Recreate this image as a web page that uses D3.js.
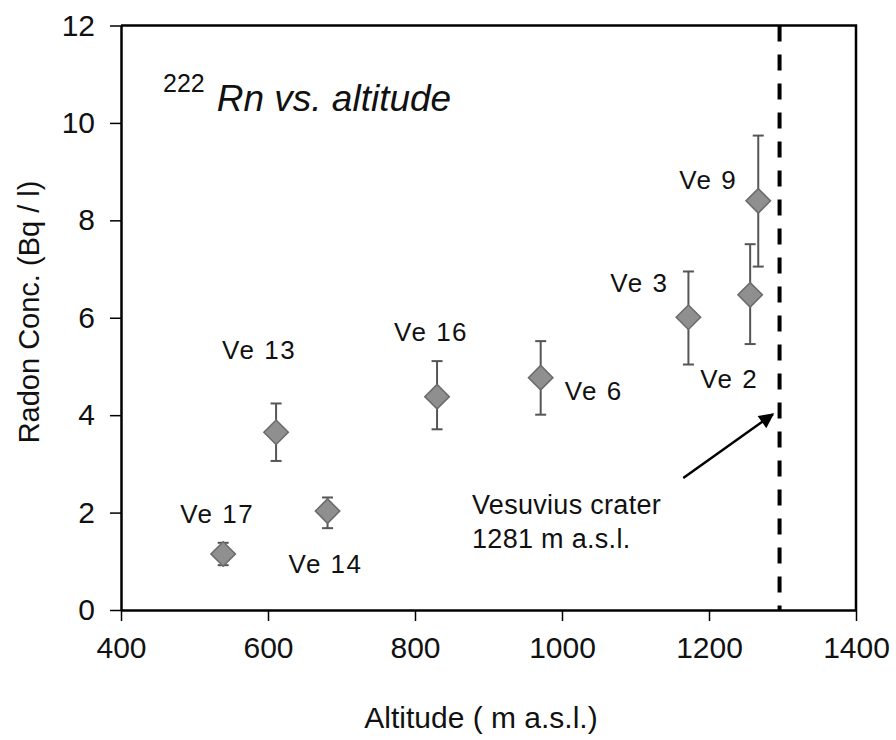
<!DOCTYPE html>
<html>
<head>
<meta charset="utf-8">
<script src="https://cdn.jsdelivr.net/npm/d3@7"></script>
<style>
  body { margin: 0; background: #fff; }
  svg text { font-family: "Liberation Sans", Arial, sans-serif; fill: #111; }
</style>
</head>
<body>
<div id="chart"></div>
<script>
// sample sites, altitude (m a.s.l.) and radon concentration (Bq/l)
const sites = ["Ve 17", "Ve 13", "Ve 14", "Ve 16", "Ve 6", "Ve 3", "Ve 2", "Ve 9"];
const altitude = [539, 611, 681, 830, 971, 1172, 1256, 1267];
const radon = [1.15, 3.65, 2.03, 4.38, 4.77, 6.01, 6.47, 8.40];
const errLow = [0.92, 3.06, 1.68, 3.71, 4.01, 5.04, 5.46, 7.05];
const errHigh = [1.38, 4.24, 2.31, 5.11, 5.52, 6.95, 7.51, 9.74];
const xTicks = [400, 600, 800, 1000, 1200, 1400];
const yTicks = [0, 2, 4, 6, 8, 10, 12];
const craterAlt = 1296;
const arrowFrom = [1165, 2.71];
const arrowTo = [1287, 4.02];

// label placement relative to each marker (px)
const labelShift = {
  "Ve 17": [-43, -31, "start"], "Ve 13": [-54, -73, "start"], "Ve 14": [-39, 62, "start"],
  "Ve 16": [-43, -56, "start"], "Ve 6": [24, 22, "start"], "Ve 3": [-20, -25, "end"],
  "Ve 2": [-50, 93, "start"], "Ve 9": [-21, -12, "end"]
};

const width = 896, height = 740;
const margin = { top: 25.5, right: 40, bottom: 130, left: 121 };

const svg = d3.select("#chart").append("svg")
  .attr("width", width).attr("height", height);

const x = d3.scaleLinear().domain([400, 1400]).range([margin.left, width - margin.right]);
const y = d3.scaleLinear().domain([0, 12]).range([height - margin.bottom, margin.top]);

const data = sites.map((s, i) => ({ name: s, x: altitude[i], y: radon[i], lo: errLow[i], hi: errHigh[i] }));

// frame
svg.append("path")
  .attr("d", `M${x(400)},${y(12)}H${x(1400)}V${y(0)}`)
  .attr("fill", "none").attr("stroke", "#000").attr("stroke-width", 2.5);

// axes
const xAxis = svg.append("g")
  .attr("transform", `translate(0,${y(0)})`)
  .call(d3.axisBottom(x).tickValues(xTicks).tickFormat(d3.format("d"))
    .tickSize(11).tickPadding(16).tickSizeOuter(0));
const yAxis = svg.append("g")
  .attr("transform", `translate(${x(400)},0)`)
  .call(d3.axisLeft(y).tickValues(yTicks).tickFormat(d3.format("d"))
    .tickSize(11).tickPadding(15).tickSizeOuter(0));
[xAxis, yAxis].forEach(a => {
  a.select(".domain").attr("stroke", "#000").attr("stroke-width", 2.5);
  a.selectAll(".tick line").attr("stroke", "#000").attr("stroke-width", 1.5);
  a.selectAll(".tick text").attr("font-size", 30).attr("font-family", "Liberation Sans, Arial, sans-serif").attr("fill", "#111");
});

// axis titles
svg.append("text")
  .attr("x", 481).attr("y", 728)
  .attr("text-anchor", "middle").attr("font-size", 30)
  .text("Altitude ( m a.s.l.)");
svg.append("text")
  .attr("transform", "translate(39,312) rotate(-90)")
  .attr("text-anchor", "middle").attr("font-size", 29)
  .text("Radon Conc. (Bq / l)");

// chart title
const title = svg.append("text").attr("x", 163).attr("y", 111);
title.append("tspan").attr("font-size", 25).attr("dy", -19).text("222");
title.append("tspan").attr("font-size", 37).attr("font-style", "italic").attr("dx", 12).attr("dy", 19).text("Rn vs. altitude");

// crater line
svg.append("line")
  .attr("x1", x(craterAlt)).attr("x2", x(craterAlt))
  .attr("y1", y(12)).attr("y2", y(0))
  .attr("stroke", "#000").attr("stroke-width", 4)
  .attr("stroke-dasharray", "16,13");

// arrow
svg.append("defs").append("marker")
  .attr("id", "arrow").attr("viewBox", "0 0 10 10")
  .attr("refX", 9).attr("refY", 5)
  .attr("markerWidth", 8).attr("markerHeight", 6)
  .attr("markerUnits", "strokeWidth").attr("orient", "auto")
  .append("path").attr("d", "M0,0L10,5L0,10Z").attr("fill", "#000");
svg.append("line")
  .attr("x1", x(arrowFrom[0])).attr("y1", y(arrowFrom[1]))
  .attr("x2", x(arrowTo[0])).attr("y2", y(arrowTo[1]))
  .attr("stroke", "#000").attr("stroke-width", 2.5)
  .attr("marker-end", "url(#arrow)");

svg.append("text").attr("x", 472).attr("y", 514).attr("font-size", 27).attr("letter-spacing", 0.3)
  .text("Vesuvius crater");
svg.append("text").attr("x", 472).attr("y", 548).attr("font-size", 27).attr("letter-spacing", 0.3)
  .text("1281 m a.s.l.");

// error bars
const eb = svg.append("g").attr("stroke", "#555").attr("stroke-width", 2);
eb.selectAll(".stem").data(data).enter().append("line")
  .attr("x1", d => x(d.x)).attr("x2", d => x(d.x))
  .attr("y1", d => y(d.lo)).attr("y2", d => y(d.hi));
eb.selectAll(".capHi").data(data).enter().append("line")
  .attr("x1", d => x(d.x) - 5.5).attr("x2", d => x(d.x) + 5.5)
  .attr("y1", d => y(d.hi)).attr("y2", d => y(d.hi));
eb.selectAll(".capLo").data(data).enter().append("line")
  .attr("x1", d => x(d.x) - 5.5).attr("x2", d => x(d.x) + 5.5)
  .attr("y1", d => y(d.lo)).attr("y2", d => y(d.lo));

// diamonds
const diamond = d3.symbol().type(d3.symbolSquare).size(300);
svg.selectAll(".pt").data(data).enter().append("path")
  .attr("d", diamond)
  .attr("transform", d => `translate(${x(d.x)},${y(d.y)}) rotate(45)`)
  .attr("fill", "#8f8f8f").attr("stroke", "#6a6a6a").attr("stroke-width", 1.5);

// point labels
svg.selectAll(".lbl").data(data).enter().append("text")
  .attr("x", d => x(d.x) + labelShift[d.name][0])
  .attr("y", d => y(d.y) + labelShift[d.name][1])
  .attr("text-anchor", d => labelShift[d.name][2])
  .attr("font-size", 26).attr("letter-spacing", 1.5)
  .text(d => d.name);
</script>
</body>
</html>
